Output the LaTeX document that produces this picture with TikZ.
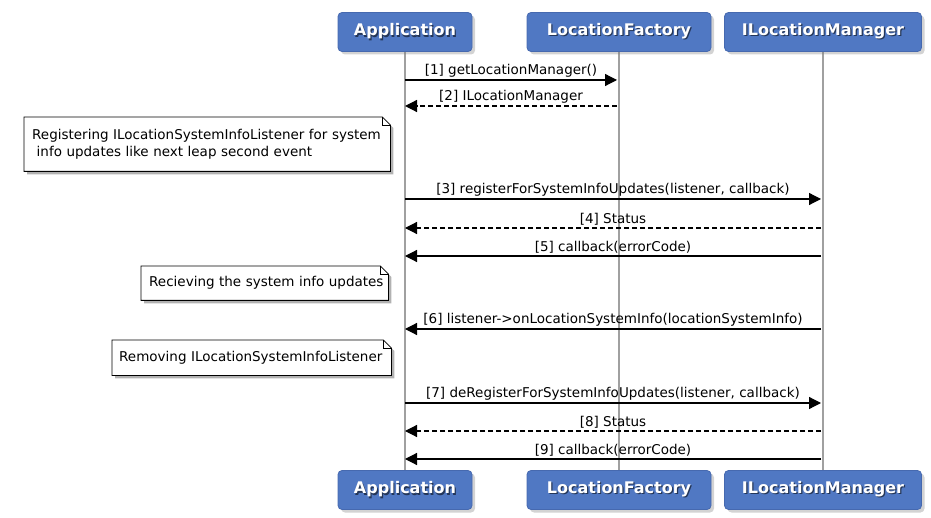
\documentclass[tikz,border=0pt]{standalone}
\usepackage{fontspec}
\setmainfont{DejaVu Sans}
\usetikzlibrary{arrows.meta,shadows,backgrounds}
\definecolor{boxblue}{RGB}{80,120,195}
\definecolor{boxedge}{RGB}{70,105,175}
\definecolor{lifegray}{RGB}{160,160,160}
\newcommand{\shtext}[1]{\rlap{\hspace{1.2pt}\raisebox{-1.2pt}{\color{black!55!boxblue}#1}}#1}
\tikzset{
  partbox/.style={rounded corners=4pt, fill=boxblue, draw=boxedge, line width=0.8pt,
    drop shadow={shadow xshift=3pt, shadow yshift=-3pt, opacity=0.35},
    minimum height=39pt, inner sep=0pt, font=\fontsize{16}{19}\selectfont\bfseries, text=white},
  lifeline/.style={draw=lifegray, line width=1.5pt},
  msg/.style={line width=1.2pt, -{Triangle[length=12pt,width=12pt]}},
  reply/.style={msg, dash pattern=on 5pt off 3pt},
  lbl/.style={font=\fontsize{13.5}{16}\selectfont, inner sep=0pt},
  notetext/.style={font=\fontsize{13.5}{17.5}\selectfont, align=left, anchor=north west, inner ysep=0pt},
}
\newcommand{\notebg}[1]{%
  \begin{scope}[on background layer]
    \fill[black, opacity=0.3] ([xshift=3pt,yshift=-3pt]#1.north west) -- ([xshift=-5pt,yshift=-3pt]#1.north east) -- ([xshift=3pt,yshift=-11pt]#1.north east) -- ([xshift=3pt,yshift=-3pt]#1.south east) -- ([xshift=3pt,yshift=-3pt]#1.south west) -- cycle;
    \draw[fill=white, line width=0.8pt] (#1.north west) -- ([xshift=-8pt]#1.north east) -- ([yshift=-8pt]#1.north east) -- (#1.south east) -- (#1.south west) -- cycle;
    \draw[line width=0.8pt] ([xshift=-8pt]#1.north east) -- ([xshift=-8pt,yshift=-8pt]#1.north east) -- ([yshift=-8pt]#1.north east);
  \end{scope}}
\begin{document}
\begin{tikzpicture}[x=1pt, y=-1pt]
\useasboundingbox (0,0) rectangle (931,518);
% participants
\node[partbox, minimum width=134pt] (A) at (405,32) {\shtext{Application}};
\node[partbox, minimum width=184pt] (F) at (619,32) {\shtext{LocationFactory}};
\node[partbox, minimum width=197pt] (M) at (823,32) {\shtext{ILocationManager}};
\node[partbox, minimum width=134pt] (Ab) at (405,490) {\shtext{Application}};
\node[partbox, minimum width=184pt] (Fb) at (619,490) {\shtext{LocationFactory}};
\node[partbox, minimum width=197pt] (Mb) at (823,490) {\shtext{ILocationManager}};
\begin{scope}[on background layer]
\draw[lifeline] (A.south) -- (Ab.north);
\draw[lifeline] (F.south) -- (Fb.north);
\draw[lifeline] (M.south) -- (Mb.north);
\end{scope}
% message coordinates
\foreach \n/\y in {1/80,2/106,3/199,4/228,5/256,6/329,7/403,8/431,9/459}{
  \coordinate (a\n) at (405,\y);
  \coordinate (f\n) at (617,\y);
  \coordinate (m\n) at (821,\y);
}
\draw[msg] (a1) -- node[lbl, above=2pt] {[1] getLocationManager()} (f1);
\draw[reply] (f2) -- node[lbl, above=2pt] {[2] ILocationManager} (a2);
\draw[msg] (a3) -- node[lbl, above=2pt] {[3] registerForSystemInfoUpdates(listener, callback)} (m3);
\draw[reply] (m4) -- node[lbl, above=2pt] {[4] Status} (a4);
\draw[msg] (m5) -- node[lbl, above=2pt] {[5] callback(errorCode)} (a5);
\draw[msg] (m6) -- node[lbl, above=2pt] {[6] listener->onLocationSystemInfo(locationSystemInfo)} (a6);
\draw[msg] (a7) -- node[lbl, above=2pt] {[7] deRegisterForSystemInfoUpdates(listener, callback)} (m7);
\draw[reply] (m8) -- node[lbl, above=2pt] {[8] Status} (a8);
\draw[msg] (m9) -- node[lbl, above=2pt] {[9] callback(errorCode)} (a9);
% notes
\node[notetext, text width=350pt, inner xsep=8pt, minimum height=54pt] (n1) at (24,117)
  {\mbox{Registering ILocationSystemInfoListener for system}\\\mbox{\ info updates like next leap second event}};
\notebg{n1}
\node[notetext, text width=231pt, inner xsep=8pt, minimum height=34pt] (n2) at (141,266)
  {\mbox{Recieving the system info updates}};
\notebg{n2}
\node[notetext, text width=265pt, inner xsep=7pt, minimum height=35pt] (n3) at (112,340)
  {\mbox{Removing ILocationSystemInfoListener}};
\notebg{n3}
\end{tikzpicture}
\end{document}
